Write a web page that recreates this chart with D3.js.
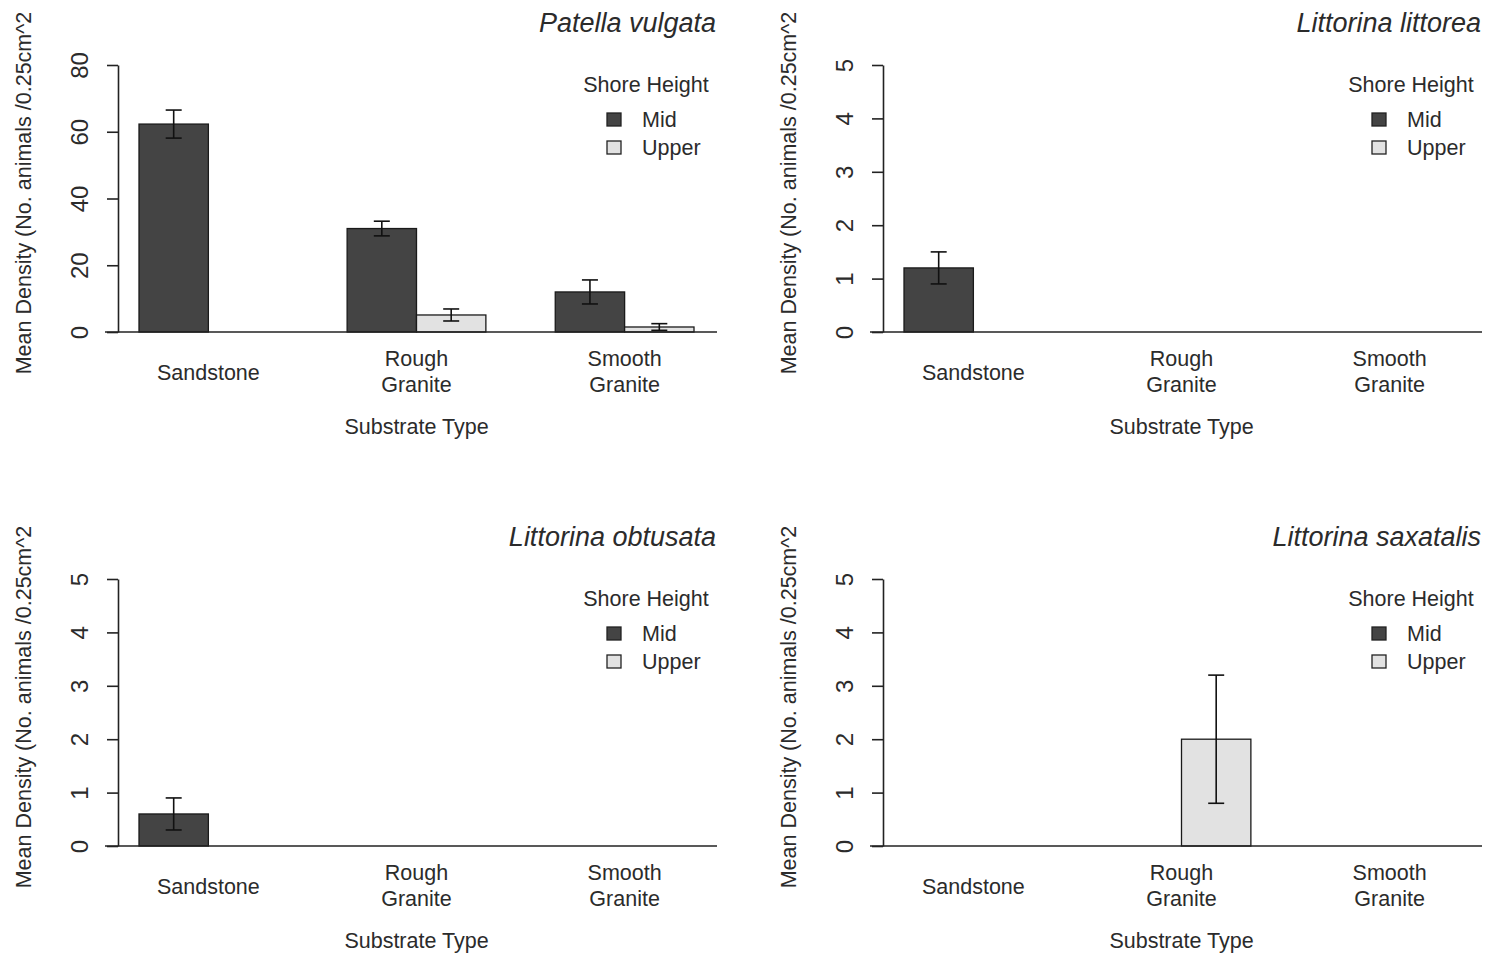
<!DOCTYPE html>
<html>
<head>
<meta charset="utf-8">
<script src="https://cdn.jsdelivr.net/npm/d3@7"></script>
<style>
  body { margin: 0; background: #fff; }
  text { font-family: "Liberation Sans", Arial, sans-serif; fill: #2b2b2b; }
</style>
</head>
<body>
<div id="chart"></div>
<script>
// data
var species = ["Patella vulgata", "Littorina littorea", "Littorina obtusata", "Littorina saxatalis"];
var substrates = ["Sandstone", "Rough Granite", "Smooth Granite"];
var substrateLabels = [["Sandstone"], ["Rough", "Granite"], ["Smooth", "Granite"]];
var shoreHeights = ["Mid", "Upper"];

var midMeans   = [[62.3, 31.0, 12.0], [1.2, 0, 0], [0.6, 0, 0], [0, 0, 0]];
var midSE      = [[4.2, 2.2, 3.6],    [0.3, 0, 0], [0.3, 0, 0], [0, 0, 0]];
var upperMeans = [[0, 5.1, 1.5],      [0, 0, 0],   [0, 0, 0],   [0, 2.0, 0]];
var upperSE    = [[0, 1.8, 1.0],      [0, 0, 0],   [0, 0, 0],   [0, 1.2, 0]];

var yMax = [80, 5, 5, 5];
var yTicks = [[0, 20, 40, 60, 80], [0, 1, 2, 3, 4, 5], [0, 1, 2, 3, 4, 5], [0, 1, 2, 3, 4, 5]];

var colors = {Mid: "#444444", Upper: "#e2e2e2"};

var W = 1491, H = 958;
var svg = d3.select("#chart").append("svg")
  .attr("width", W)
  .attr("height", H);

// panel offsets (left column / right column, top row / bottom row)
var offsets = [[0, 0], [765, 0], [0, 514], [765, 514]];

species.forEach(function(sp, i) {
  var g = svg.append("g")
    .attr("transform", "translate(" + offsets[i][0] + "," + offsets[i][1] + ")");

  var x0 = d3.scaleBand()
    .domain(substrates)
    .range([139, 694])
    .paddingInner(1 / 3)
    .paddingOuter(0);
  var x1 = d3.scaleBand()
    .domain(shoreHeights)
    .range([0, x0.bandwidth()]);
  var y = d3.scaleLinear()
    .domain([0, yMax[i]])
    .range([332, 65]);

  var rows = substrates.map(function(s, j) {
    return [
      {sub: s, h: "Mid", v: midMeans[i][j], se: midSE[i][j]},
      {sub: s, h: "Upper", v: upperMeans[i][j], se: upperSE[i][j]}
    ];
  });
  var flat = [].concat.apply([], rows).filter(function(d) { return d.v > 0; });

  // bars
  g.selectAll("rect.bar")
    .data(flat)
    .enter()
    .append("rect")
      .attr("class", "bar")
      .attr("x", function(d) { return x0(d.sub) + x1(d.h); })
      .attr("y", function(d) { return y(d.v); })
      .attr("width", x1.bandwidth())
      .attr("height", function(d) { return y(0) - y(d.v); })
      .attr("fill", function(d) { return colors[d.h]; })
      .attr("stroke", "#1a1a1a")
      .attr("stroke-width", 1.3);

  // error bars
  var eb = g.selectAll("g.err")
    .data(flat.filter(function(d) { return d.se > 0; }))
    .enter()
    .append("g")
      .attr("class", "err")
      .attr("stroke", "#111")
      .attr("stroke-width", 1.6);
  function cx(d) { return x0(d.sub) + x1(d.h) + x1.bandwidth() / 2; }
  eb.append("line")
    .attr("x1", cx).attr("x2", cx)
    .attr("y1", function(d) { return y(d.v + d.se); })
    .attr("y2", function(d) { return y(Math.max(0, d.v - d.se)); });
  eb.append("line")
    .attr("x1", function(d) { return cx(d) - 8; })
    .attr("x2", function(d) { return cx(d) + 8; })
    .attr("y1", function(d) { return y(d.v + d.se); })
    .attr("y2", function(d) { return y(d.v + d.se); });
  eb.append("line")
    .attr("x1", function(d) { return cx(d) - 8; })
    .attr("x2", function(d) { return cx(d) + 8; })
    .attr("y1", function(d) { return y(Math.max(0, d.v - d.se)); })
    .attr("y2", function(d) { return y(Math.max(0, d.v - d.se)); });

  // baseline
  g.append("line")
    .attr("x1", 105).attr("x2", 717)
    .attr("y1", y(0)).attr("y2", y(0))
    .attr("stroke", "#222")
    .attr("stroke-width", 1.6);

  // y axis
  var yAxis = g.append("g")
    .attr("transform", "translate(118,0)")
    .call(d3.axisLeft(y).tickValues(yTicks[i]).tickFormat(d3.format("d"))
      .tickSize(11).tickSizeOuter(0));
  yAxis.select(".domain").attr("stroke", "#222").attr("stroke-width", 1.6);
  yAxis.selectAll(".tick line").attr("stroke", "#222").attr("stroke-width", 1.6);
  yAxis.selectAll(".tick text")
    .attr("transform", "rotate(-90)")
    .attr("x", 0)
    .attr("y", -30)
    .attr("dy", 0)
    .attr("text-anchor", "middle")
    .style("font-size", "24px")
    .style("font-family", "'Liberation Sans', Arial, sans-serif")
    .attr("fill", "#2b2b2b");

  // y axis title
  g.append("text")
    .attr("transform", "translate(31,193) rotate(-90)")
    .attr("text-anchor", "middle")
    .style("font-size", "21.5px")
    .text("Mean Density (No.  animals /0.25cm^2");

  // category labels
  substrates.forEach(function(s, j) {
    var lines = substrateLabels[j];
    var t = g.append("text")
      .attr("text-anchor", "middle")
      .style("font-size", "21.5px");
    var cxg = x0(s) + x0.bandwidth() / 2;
    var startY = lines.length === 1 ? 380 : 366;
    lines.forEach(function(l, k) {
      t.append("tspan")
        .attr("x", cxg)
        .attr("y", startY + k * 26)
        .text(l);
    });
  });

  // x axis title
  g.append("text")
    .attr("x", x0("Rough Granite") + x0.bandwidth() / 2)
    .attr("y", 434)
    .attr("text-anchor", "middle")
    .style("font-size", "21.5px")
    .text("Substrate Type");

  // panel title
  g.append("text")
    .attr("x", 716)
    .attr("y", 32)
    .attr("text-anchor", "end")
    .style("font-size", "27px")
    .style("font-style", "italic")
    .text(sp);

  // legend
  var leg = g.append("g");
  leg.append("text")
    .attr("x", 646)
    .attr("y", 92)
    .attr("text-anchor", "middle")
    .style("font-size", "21.5px")
    .text("Shore Height");
  shoreHeights.forEach(function(h, k) {
    leg.append("rect")
      .attr("x", 607)
      .attr("y", 113 + k * 28)
      .attr("width", 14)
      .attr("height", 13)
      .attr("fill", colors[h])
      .attr("stroke", "#222")
      .attr("stroke-width", 1.3);
    leg.append("text")
      .attr("x", 642)
      .attr("y", 127 + k * 28)
      .style("font-size", "21.5px")
      .text(h);
  });
});
</script>
</body>
</html>
